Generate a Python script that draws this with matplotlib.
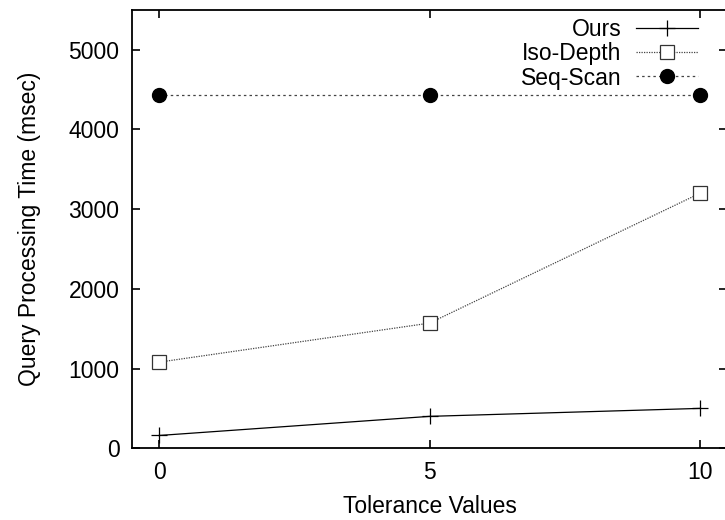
import numpy as np
from matplotlib import pyplot as plt

plt.rcParams['font.family'] = ['Liberation Sans', 'DejaVu Sans']

tolerance = [0, 5, 10]
ours = [160, 400, 500]
iso_depth = [1080, 1570, 3200]
seq_scan = [4430, 4430, 4430]

fig = plt.figure(figsize=(7.25, 5.2), dpi=100)
ax = fig.add_axes([0.182, 0.138, 0.821, 0.843])

ax.plot(tolerance, ours, color='black', linestyle='-', linewidth=0.9,
        marker='+', markersize=12, markeredgewidth=0.9, label='Ours')
ax.plot(tolerance, iso_depth, color='#444444', linestyle=(0, (1, 1)), linewidth=0.9,
        marker='s', markersize=10, markerfacecolor='white', markeredgecolor='#333333',
        markeredgewidth=0.9, label='Iso-Depth')
ax.plot(tolerance, seq_scan, color='#444444', linestyle=(0, (2, 2.5)), linewidth=0.9,
        marker='o', markersize=10, markerfacecolor='black', markeredgecolor='black',
        label='Seq-Scan')

ax.set_xlim(-0.5, 10.5)
ax.set_ylim(0, 5500)
ax.set_xticks([0, 5, 10])
ax.set_yticks([0, 1000, 2000, 3000, 4000, 5000])
ax.tick_params(direction='in', top=True, right=True, length=6, width=1.2,
               labelsize=16.5, pad=9)
for s in ax.spines.values():
    s.set_linewidth(1.3)

ax.set_xlabel('Tolerance Values', fontsize=16.5, labelpad=8)
ax.set_ylabel('Query Processing Time (msec)', fontsize=16.5, labelpad=20)

ax.legend(loc='upper right', frameon=False, markerfirst=False, fontsize=16.5,
          handlelength=2.7, labelspacing=0.05, borderaxespad=0, borderpad=0,
          handletextpad=0.65, bbox_to_anchor=(0.951, 0.981))

fig.savefig('out.png', dpi=100)
